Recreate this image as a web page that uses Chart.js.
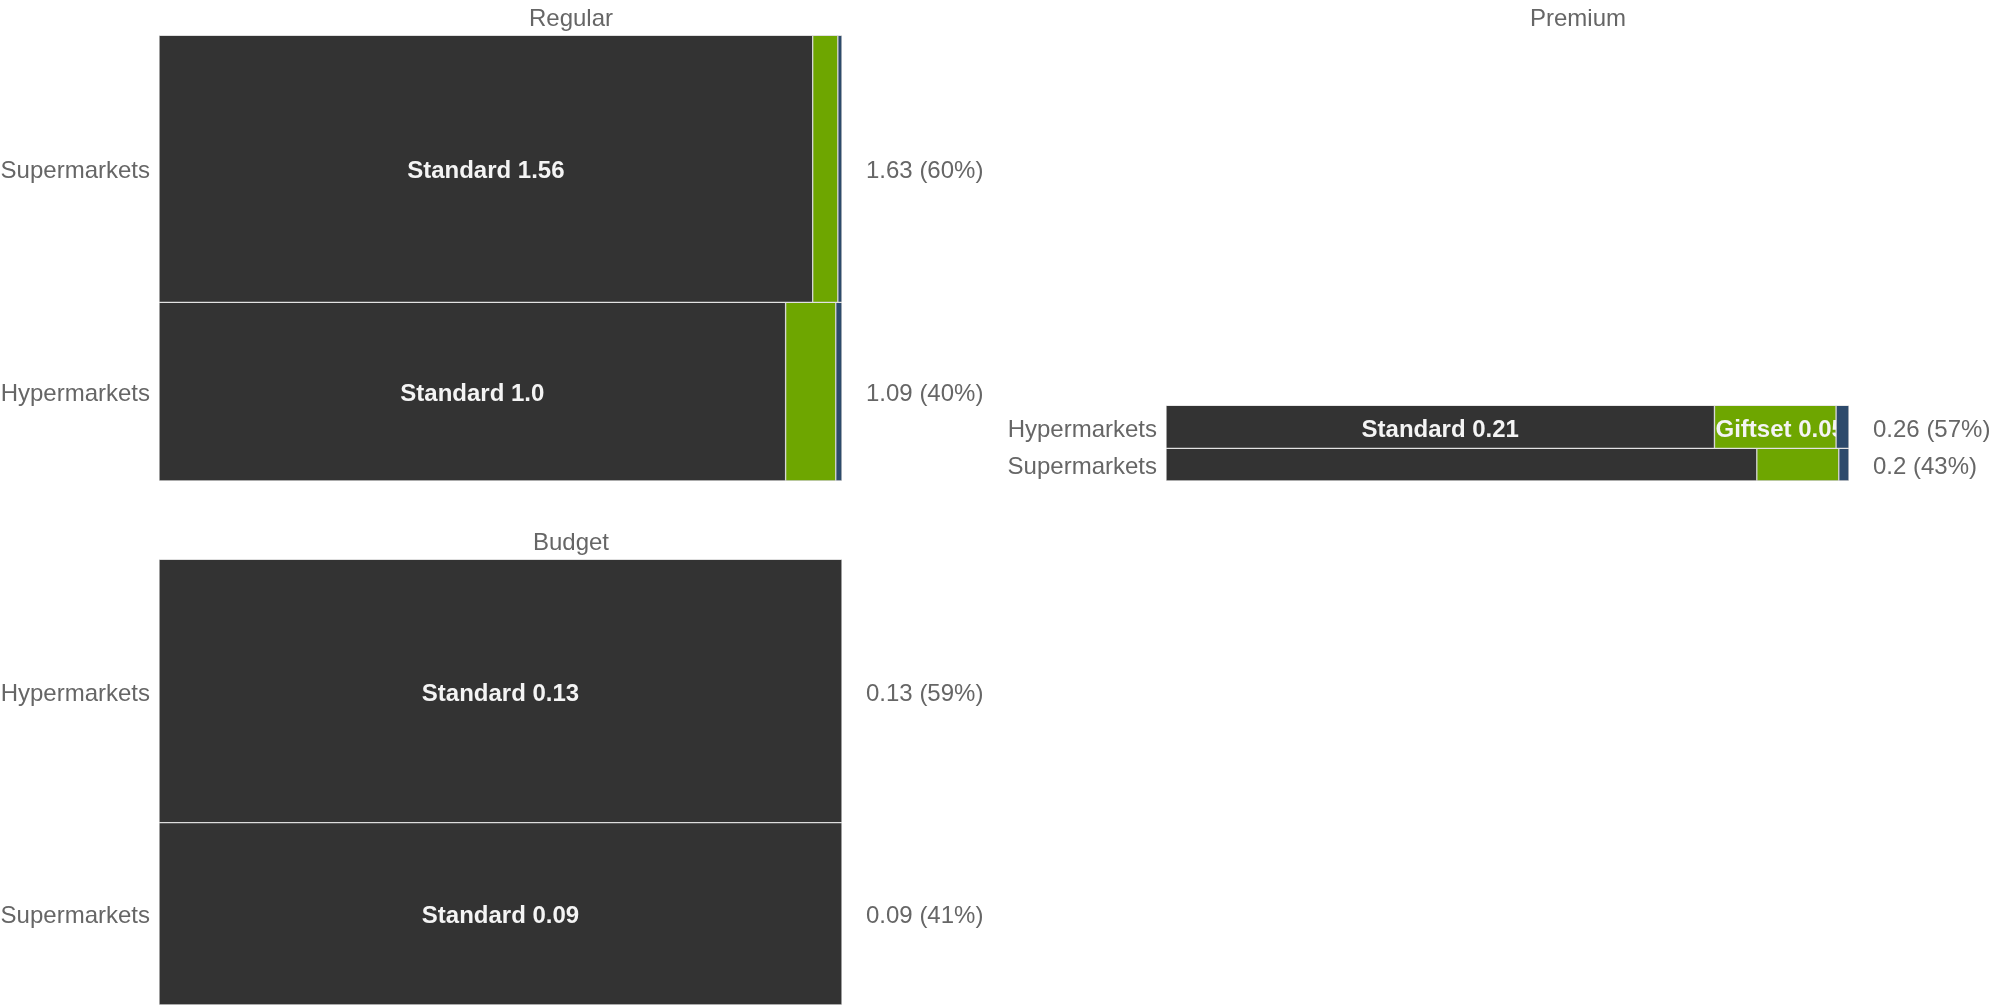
<!DOCTYPE html>
<html>
<head>
<meta charset="utf-8">
<script src="https://cdn.jsdelivr.net/npm/chart.js@4.4.1/dist/chart.umd.min.js"></script>
<style>
  html, body { margin: 0; padding: 0; background: #ffffff; overflow: hidden; width: 1997px; height: 1008px; }
  canvas { position: absolute; }
</style>
</head>
<body>
<canvas id="regular" width="1142" height="500" style="left:0px;top:0px"></canvas>
<canvas id="premium" width="1142" height="500" style="left:1007px;top:0px"></canvas>
<canvas id="budget" width="1142" height="500" style="left:0px;top:524px"></canvas>
<script>
// segment names and colours
const segments = ['Standard', 'Giftset', 'Other'];
const segmentColors = ['#333333', '#6ea600', '#2d4a6b'];

// Regular
const regularRows = ['Supermarkets', 'Hypermarkets'];
const regularStandard = [1.56, 1.0];
const regularGiftset = [0.06, 0.08];
const regularOther = [0.01, 0.01];

// Premium
const premiumRows = ['Hypermarkets', 'Supermarkets'];
const premiumStandard = [0.212, 0.173];
const premiumGiftset = [0.047, 0.024];
const premiumOther = [0.005, 0.003];

// Budget
const budgetRows = ['Hypermarkets', 'Supermarkets'];
const budgetStandard = [0.13, 0.09];
const budgetGiftset = [0, 0];
const budgetOther = [0, 0];

const FONT = '"Liberation Sans", Arial, sans-serif';
const GREY = '#666666';

function fmt(v) {
    if (Number.isInteger(v)) return v.toFixed(1);
    return String(Math.round(v * 100) / 100);
}

function sum(a) { return a.reduce((s, v) => s + v, 0); }

function rowTotals(series) {
    return series[0].map((_, i) => sum(series.map(s => s[i])));
}

const regularTotal = sum(rowTotals([regularStandard, regularGiftset, regularOther]));

// text inside the bars
const barLabels = {
    id: 'barLabels',
    afterDatasetsDraw(chart) {
        const ctx = chart.ctx;
        chart.data.datasets.forEach((ds, i) => {
            const el = chart.getDatasetMeta(i).data[0];
            if (!el) return;
            const p = el.getProps(['x', 'y', 'base', 'height'], true);
            const w = p.x - p.base;
            if (w < 100 || p.height < 36) return;
            const text = ds.label + ' ' + fmt(ds.rawValue);
            ctx.save();
            ctx.beginPath();
            ctx.rect(p.base, p.y - p.height / 2, w, p.height);
            ctx.clip();
            ctx.font = 'bold 24px ' + FONT;
            ctx.fillStyle = '#f4f4f4';
            ctx.textBaseline = 'middle';
            if (ctx.measureText(text).width > w - 2) {
                ctx.textAlign = 'left';
                ctx.fillText(text, p.base + 1, p.y + 3);
            } else {
                ctx.textAlign = 'center';
                ctx.fillText(text, (p.x + p.base) / 2, p.y + 3);
            }
            ctx.restore();
        });
    }
};

function fixWidth(w) {
    return function (scale) {
        scale.width = w;
        scale.paddingTop = 0;
        scale.paddingBottom = 0;
    };
}

function makePanel(id, title, rows, series, heightRatio) {
    const totals = rowTotals(series);
    const panelTotal = sum(totals);
    const n = rows.length;
    const scales = {
        x: { type: 'linear', display: false, min: 0, max: 1, stacked: true }
    };
    const datasets = [];
    rows.forEach((row, r) => {
        const share = totals[r] / panelTotal;
        scales['yL' + r] = {
            type: 'category', position: 'left', labels: [row], offset: true,
            stack: 'left', stackWeight: share, weight: n - r, stacked: true,
            grid: { display: false, drawTicks: false }, border: { display: false },
            ticks: { color: GREY, font: { family: FONT, size: 24 }, padding: 9, labelOffset: 3 },
            afterFit: fixWidth(159)
        };
        scales['yR' + r] = {
            type: 'category', position: 'right',
            labels: [fmt(totals[r]) + ' (' + Math.round(share * 100) + '%)'], offset: true,
            stack: 'right', stackWeight: share, weight: r,
            grid: { display: false, drawTicks: false }, border: { display: false },
            ticks: { color: GREY, font: { family: FONT, size: 24 }, padding: 24, labelOffset: 3 },
            afterFit: fixWidth(300)
        };
        series.forEach((s, k) => {
            if (!s[r]) return;
            datasets.push({
                label: segments[k],
                rawValue: s[r],
                data: [s[r] / totals[r]],
                yAxisID: 'yL' + r,
                stack: 'all',
                grouped: false,
                backgroundColor: segmentColors[k],
                borderColor: '#d4d4d4',
                borderWidth: 1,
                borderSkipped: false,
                barPercentage: 1,
                categoryPercentage: 1
            });
        });
    });
    const plotH = 446.2;
    new Chart(document.getElementById(id), {
        type: 'bar',
        data: { datasets: datasets },
        options: {
            indexAxis: 'y',
            responsive: false,
            animation: false,
            layout: { padding: { left: 0, right: 0, top: 0, bottom: 19 } },
            scales: scales,
            plugins: {
                legend: { display: false },
                tooltip: { enabled: false },
                title: {
                    display: true, text: title, color: GREY,
                    font: { family: FONT, size: 24, weight: 'normal' },
                    padding: { top: 5, bottom: 1.5 + plotH * (1 - heightRatio) }
                }
            }
        },
        plugins: [barLabels]
    });
}

makePanel('regular', 'Regular', regularRows, [regularStandard, regularGiftset, regularOther], 1);
const premiumTotal = sum(rowTotals([premiumStandard, premiumGiftset, premiumOther]));
makePanel('premium', 'Premium', premiumRows, [premiumStandard, premiumGiftset, premiumOther], premiumTotal / regularTotal);
makePanel('budget', 'Budget', budgetRows, [budgetStandard, budgetGiftset, budgetOther], 1);
</script>
</body>
</html>
